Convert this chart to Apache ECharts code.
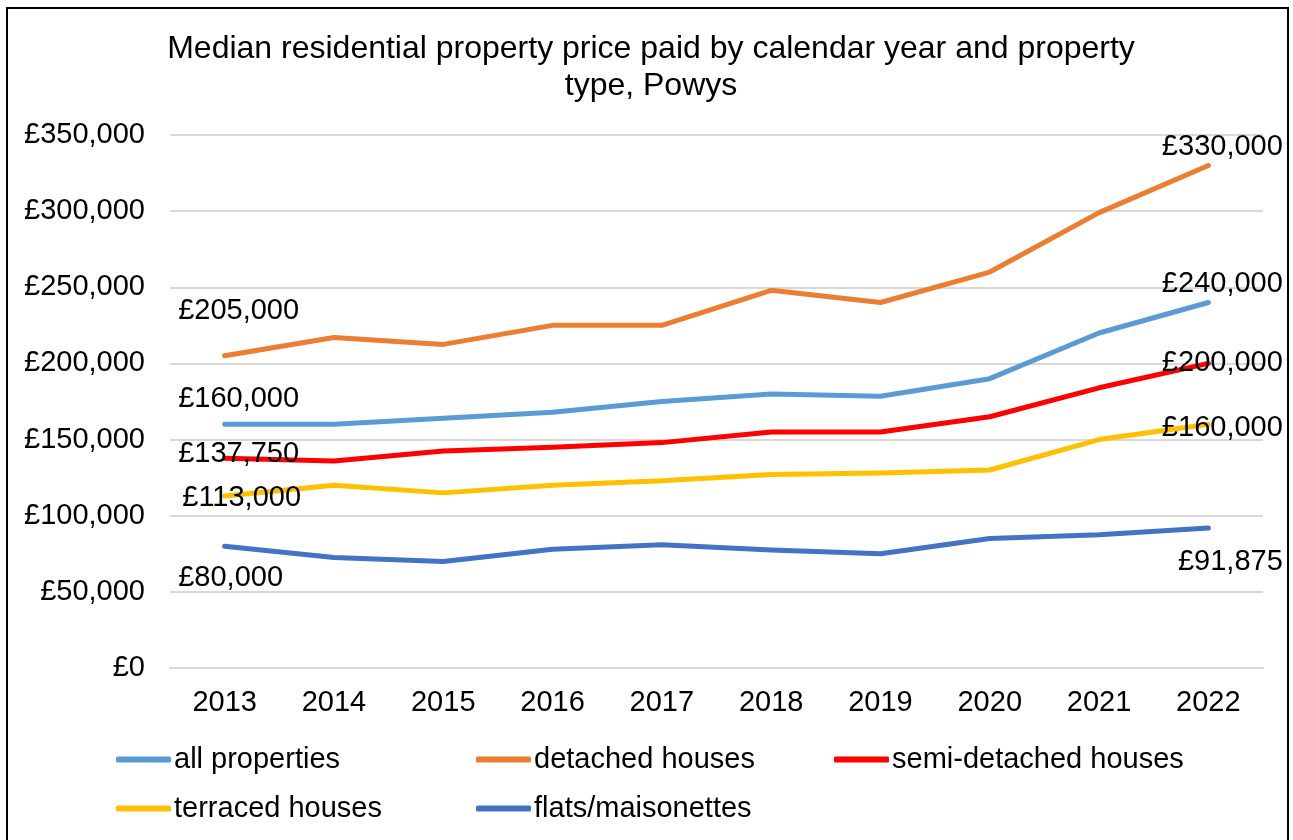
<!DOCTYPE html>
<html>
<head>
<meta charset="utf-8">
<script src="https://cdn.jsdelivr.net/npm/echarts@6/dist/echarts.min.js"></script>
<style>
  html, body { margin: 0; padding: 0; background: #fff; }
  #frame { position: absolute; left: 6px; top: 7px; width: 1283px; height: 840px; border: 2px solid #000; box-sizing: border-box; }
  #ech { position: absolute; left: 0; top: 0; width: 1293px; height: 840px; }
</style>
</head>
<body>
<div id="frame"></div>
<div id="ech"></div>
<script>
var years = ["2013", "2014", "2015", "2016", "2017", "2018", "2019", "2020", "2021", "2022"];
var allProperties = [160000, 160000, 164000, 168000, 175000, 180000, 178500, 190000, 220000, 240000];
var detached = [205000, 217000, 212500, 225000, 225000, 248000, 240000, 260000, 299000, 330000];
var semiDetached = [137750, 136000, 142500, 145000, 148000, 155000, 155000, 165000, 184000, 200000];
var terraced = [113000, 120000, 115000, 120000, 123000, 127000, 128000, 130000, 150000, 160000];
var flats = [80000, 72500, 70000, 78000, 81000, 77500, 75000, 85000, 87500, 91875];

var names = ["all properties", "detached houses", "semi-detached houses", "terraced houses", "flats/maisonettes"];
var colors = ["#5B9BD5", "#ED7D31", "#FF0000", "#FFC000", "#4472C4"];
var values = [allProperties, detached, semiDetached, terraced, flats];
// label offsets for the first and last point of each line
var firstOffsets = [[14, -25], [14, -45], [14, -4], [17, 2], [6, 32]];
var lastOffsets = [[14, -19], [14, -18], [14, 0], [14, 4], [22, 34]];

var font = "Liberation Sans, Arial, sans-serif";

function money(v) {
  return "£" + v.toLocaleString("en-GB");
}

var myChart = echarts.init(document.getElementById("ech"));

var series = values.map(function(vals, i) {
  return {
    name: names[i],
    type: "line",
    symbol: "circle",
    symbolSize: 0.1,
    showSymbol: true,
    lineStyle: { width: 5, color: colors[i], cap: "round", join: "round" },
    itemStyle: { color: colors[i] },
    z: i === 2 ? 3 : 2,
    data: vals.map(function(v, j) {
      var item = { value: v };
      if (j === 0 || j === vals.length - 1) {
        item.label = {
          show: true,
          position: "inside",
          offset: j === 0 ? firstOffsets[i] : lastOffsets[i],
          formatter: function(p) { return money(p.value); },
          color: "#000",
          fontSize: 29,
          fontFamily: font
        };
      }
      return item;
    })
  };
});

var legendPos = [[116, 745], [476, 745], [834, 745], [116, 794], [476, 794]];
var legends = names.map(function(n, i) {
  return {
    data: [n],
    left: legendPos[i][0],
    top: legendPos[i][1],
    padding: 0,
    icon: "roundRect",
    itemWidth: 55,
    itemHeight: 6,
    itemGap: 0,
    textStyle: { color: "#000", fontSize: 29, fontFamily: font, padding: [0, 0, 0, -2] },
    selectedMode: false
  };
});

var option = {
  animation: false,
  title: {
    text: "Median residential property price paid by calendar year and property\ntype, Powys",
    left: 646,
    textAlign: "center",
    top: 26,
    textStyle: { color: "#000", fontSize: 32, fontWeight: "normal", lineHeight: 37, fontFamily: font }
  },
  legend: legends,
  grid: { left: 170, right: 30, top: 135, bottom: 172 },
  xAxis: {
    type: "category",
    data: years,
    boundaryGap: true,
    axisLine: { lineStyle: { color: "#D9D9D9", width: 2 } },
    axisTick: { show: false },
    axisLabel: { color: "#000", fontSize: 29, margin: 20, fontFamily: font }
  },
  yAxis: {
    type: "value",
    min: 0,
    max: 350000,
    interval: 50000,
    axisLine: { show: false },
    axisTick: { show: false },
    splitLine: { lineStyle: { color: "#D9D9D9", width: 2 } },
    axisLabel: {
      color: "#000",
      fontSize: 29,
      margin: 25,
      fontFamily: font,
      formatter: function(v) { return money(v); }
    }
  },
  series: series
};

myChart.setOption(option);
</script>
</body>
</html>
